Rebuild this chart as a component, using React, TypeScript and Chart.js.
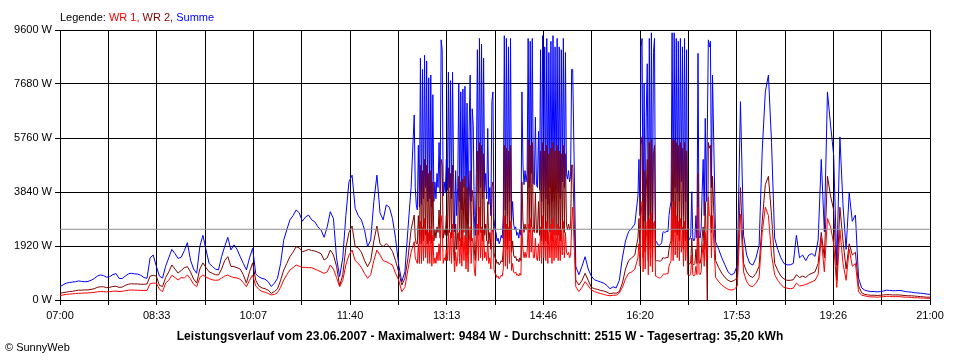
import React, { useEffect, useRef } from 'react';
import { Chart, registerables } from 'chart.js';

Chart.register(...registerables);

// Base sampling: one value every 3 minutes from 07:00 to 21:00
const STEP_MIN = 3;
const TOTAL_MIN = 840;
const GRID_DIVISIONS = 18;
const TIME_LABELS = ['07:00', '08:33', '10:07', '11:40', '13:13', '14:46', '16:20', '17:53', '19:26', '21:00'];
const Y_TICKS = [0, 1920, 3840, 5760, 7680, 9600];
const AVERAGE_W = 2515;

const LEGEND_PREFIX = 'Legende: ';
const SERIES_NAMES = ['WR 1', 'WR 2', 'Summe'];
const TITLE = 'Leistungsverlauf vom 23.06.2007 - Maximalwert: 9484 W - Durchschnitt: 2515 W - Tagesertrag: 35,20 kWh';
const COPYRIGHT = '\u00A9 SunnyWeb';

const WR1 = [
  150, 180, 200, 210, 220, 230, 240, 240, 250, 250,
  260, 270, 290, 300, 300, 290, 300, 310, 320, 300,
  310, 330, 350, 356, 350, 350, 340, 340, 340, 580,
  600, 600, 380, 300, 600, 700, 880, 800, 711, 800,
  780, 889, 750, 560, 474, 800, 889, 820, 760, 720,
  700, 711, 780, 850, 889, 830, 800, 780, 740, 620,
  474, 700, 889, 500, 380, 300, 280, 230, 180, 200,
  260, 450, 711, 900, 1067, 1150, 1245, 1200, 1160, 1160,
  1150, 1150, 1100, 1050, 1000, 948, 1000, 1245, 1100, 800,
  474, 700, 1245, 1600, 1778, 1400, 1300, 1150, 950, 770,
  900, 1400, 1778, 1600, 1400, 1363, 1300, 1245, 950, 700,
  300, 450, 1100, 1700, 2075, 1500, 1400, 3600, 1500, 3800,
  3300, 1500, 1200, 3600, 1600, 3600, 1600, 2900, 1000, 3600,
  2000, 3500, 1000, 3700, 1300, 3600, 3600, 1500, 3000, 3200,
  1200, 1000, 1100, 3500, 1200, 3600, 1400, 1100, 1000, 3600,
  2000, 3600, 3400, 2100, 3000, 3500, 1700, 3900, 1800, 3500,
  3500, 1800, 3900, 1700, 1800, 3300, 474, 300, 450, 652,
  500, 360, 300, 260, 230, 200, 170, 150, 170, 170,
  250, 450, 750, 950, 1000, 1100, 1500, 3500, 1500, 3400,
  3500, 3200, 850, 800, 780, 850, 950, 1500, 3600, 1600,
  3400, 3300, 900, 850, 1800, 3300, 900, 2400, 3000, 3650,
  3000, 800, 650, 530, 450, 380, 350, 380, 500, 3050,
  1000, 650, 500, 480, 600, 800, 2400, 3300, 3000, 1600,
  900, 700, 550, 450, 420, 400, 420, 600, 500, 520,
  550, 600, 650, 700, 900, 2200, 1000, 2900, 2600, 2000,
  450, 2500, 1300, 700, 1800, 1200, 1300, 300, 170, 150,
  120, 110, 110, 100, 110, 120, 130, 130, 120, 120,
  120, 110, 100, 100, 90, 80, 80, 70, 70, 60,
  60,
];

const WR2 = [
  240, 260, 280, 300, 310, 330, 350, 350, 360, 360,
  380, 400, 450, 470, 470, 440, 450, 480, 490, 450,
  460, 520, 560, 580, 570, 570, 560, 560, 570, 850,
  880, 850, 520, 480, 800, 1000, 1245, 1100, 960, 1050,
  1150, 1185, 1000, 750, 600, 1100, 1320, 1150, 1000, 950,
  900, 889, 1100, 1400, 1540, 1200, 1185, 1150, 1100, 900,
  600, 1000, 1320, 700, 500, 430, 400, 350, 237, 300,
  400, 700, 1067, 1300, 1541, 1700, 1896, 1850, 1720, 1750,
  1800, 1760, 1740, 1700, 1650, 1422, 1500, 1778, 1600, 1200,
  500, 900, 1850, 2400, 2630, 1900, 1850, 1700, 1400, 1185,
  1400, 2100, 2630, 2000, 1900, 2003, 1900, 1730, 1400, 1000,
  533, 770, 1500, 2500, 3022, 2000, 2100, 4800, 2200, 4600,
  4000, 2000, 3000, 4800, 2200, 4500, 2000, 3600, 1400, 4100,
  2300, 4000, 1200, 4300, 1600, 5600, 5000, 2300, 3000, 3800,
  1800, 1500, 1500, 5500, 2000, 5000, 1700, 1600, 1500, 3800,
  2500, 5700, 5000, 2000, 3500, 5400, 1800, 5500, 2200, 5000,
  5000, 2000, 5400, 2800, 2400, 4800, 711, 533, 700, 948,
  700, 450, 400, 380, 340, 320, 280, 220, 250, 240,
  300, 600, 1100, 1400, 1500, 1600, 2200, 5800, 2000, 5000,
  5000, 4800, 1400, 1400, 1380, 1400, 1500, 1800, 4800, 2000,
  5000, 4800, 1300, 1200, 2000, 4500, 1200, 2600, 3500, 5600,
  4400, 1400, 1150, 950, 800, 700, 650, 700, 800, 4000,
  1300, 1000, 850, 800, 950, 1200, 2800, 4100, 4400, 3000,
  1300, 1050, 850, 750, 700, 700, 720, 900, 800, 850,
  800, 900, 950, 1000, 1300, 2400, 1500, 4400, 3700, 3200,
  700, 3300, 2100, 1100, 2000, 1600, 1700, 500, 260, 200,
  180, 170, 170, 160, 170, 180, 190, 190, 180, 180,
  180, 170, 160, 150, 150, 140, 130, 120, 110, 100,
  100,
];

const SUMME = [
  470, 540, 600, 620, 640, 650, 680, 660, 650, 660,
  700, 760, 850, 890, 870, 810, 830, 900, 940, 770,
  760, 850, 930, 950, 930, 920, 880, 800, 770, 1500,
  1600, 1200, 850, 780, 1200, 1500, 1800, 1650, 1480, 1520,
  1750, 2040, 1420, 1100, 950, 1900, 2300, 1780, 1300, 1200,
  1100, 1070, 1540, 1900, 2230, 1780, 1960, 1800, 1540, 1300,
  1070, 1500, 1840, 930, 820, 770, 740, 650, 480, 600,
  770, 1300, 2130, 2500, 2850, 3000, 3200, 3100, 2800, 2950,
  3020, 2850, 2780, 2600, 2490, 2230, 2600, 3140, 2900, 1500,
  830, 1500, 3000, 4200, 4440, 3260, 3000, 2850, 2500, 1900,
  2130, 3500, 4440, 3100, 2850, 3380, 3300, 2900, 2190, 1245,
  650, 1000, 2550, 4000, 6580, 3380, 3000, 8600, 3600, 8400,
  7300, 3500, 4200, 9250, 3800, 8100, 3600, 6500, 2430, 7700,
  4500, 7700, 2300, 8000, 3000, 9300, 8800, 3850, 6100, 7050,
  2500, 2100, 2200, 9400, 3000, 9300, 2800, 2500, 2300, 7400,
  4500, 9300, 9200, 4100, 6500, 8900, 3500, 9400, 4000, 9000,
  9000, 3800, 9300, 4500, 4200, 8200, 1200, 900, 1200, 1540,
  1100, 850, 720, 680, 640, 600, 520, 400, 470, 430,
  700, 1500, 2100, 2430, 2550, 2700, 3700, 9300, 4000, 8400,
  9500, 9300, 2100, 2000, 1970, 2200, 2430, 3500, 9500, 4500,
  9300, 8900, 2200, 2200, 3850, 8770, 2200, 5000, 6460, 9250,
  8000, 2070, 1800, 1500, 1250, 1000, 890, 950, 1244, 7050,
  2300, 1600, 1300, 1244, 1500, 1950, 5300, 7400, 8000, 5600,
  2200, 1800, 1500, 1300, 1250, 1250, 1300, 2300, 1500, 1600,
  1400, 1600, 1650, 1550, 2134, 5000, 2430, 7400, 6220, 5150,
  1245, 5800, 3378, 1800, 3800, 2800, 3022, 782, 430, 350,
  320, 300, 300, 290, 300, 320, 350, 340, 330, 330,
  340, 330, 300, 290, 280, 260, 250, 240, 230, 210,
  200,
];

// Detail windows read at one-minute resolution where the curve flickers
const DETAIL_STEP_MIN = 1;
const DETAIL_A_START = 342; // 12:42
const DETAIL_B_START = 558; // 16:18

const SUMME_A = [
  6580, 4000, 3380, 3200, 5500, 3300, 8600, 3400, 8200, 3600,
  8700, 4000, 8500, 3500, 7900, 3600, 8000, 3300, 7300, 3500,
  4200, 3600, 4500, 4000, 5600, 3800, 9250, 8900, 3700, 4200,
  3800, 5000, 3900, 8100, 4000, 7800, 3600, 8100, 4500, 2430,
  4600, 3000, 4000, 7700, 3500, 7400, 3200, 7500, 4000, 7600,
  3000, 7000, 2700, 6000, 8000, 3500, 6800, 6200, 3000, 2300,
  4500, 8900, 3800, 9300, 4000, 9100, 3600, 8600, 3850, 4500,
  3600, 6100, 3400, 4000, 3000, 7050, 7400, 2900, 2500, 2400,
  2100, 2200, 2000, 2100, 2300, 2200, 3000, 9400, 3200, 9300,
  3000, 9000, 3500, 9300, 2800, 3500, 2700, 2500, 2600, 2300,
  2400, 2200, 2500, 2300, 7400, 4800, 4100, 4600, 4200, 4500,
  9300, 4000, 9200, 4500, 9300, 4200, 4100, 6500, 4100, 4000,
  6000, 3900, 8900, 3500, 9400, 4000, 9000, 3600, 9300, 3400,
  8800, 4000, 9200, 3500, 9400, 3800, 9000, 3900, 9300, 3800,
  9000, 3600, 8900, 4200, 9300, 4000, 8800, 4500, 4300, 4600,
  4200, 4400, 8200,
];

const WR2_A = [
  3022, 2200, 2000, 2000, 3000, 2000, 4800, 2000, 4600, 2100,
  5000, 2300, 4800, 2000, 4500, 2100, 4600, 2000, 4200, 2100,
  2500, 2200, 2600, 2400, 3200, 2200, 5000, 4800, 2200, 2500,
  2300, 3000, 2300, 4700, 2400, 4500, 2200, 4800, 2600, 1400,
  2700, 1800, 2400, 4400, 2100, 4200, 1900, 4300, 2400, 4400,
  1800, 4000, 1600, 3500, 4600, 2100, 3900, 3600, 1800, 1400,
  2600, 5300, 2300, 5600, 2400, 5500, 2100, 5200, 2300, 2700,
  2100, 3500, 2000, 2400, 1800, 4000, 4200, 1700, 1500, 1450,
  1300, 1350, 1250, 1300, 1400, 1350, 1800, 5500, 1900, 5400,
  1800, 5300, 2100, 5500, 1700, 2100, 1600, 1500, 1550, 1400,
  1450, 1350, 1500, 1400, 4200, 2800, 2400, 2700, 2500, 2600,
  5700, 2400, 5500, 2600, 5600, 2500, 2400, 3800, 2400, 2400,
  3500, 2300, 5300, 2100, 5600, 2400, 5300, 2100, 5500, 2000,
  5200, 2400, 5400, 2100, 5600, 2300, 5300, 2300, 5500, 2300,
  5300, 2100, 5200, 2500, 5500, 2400, 5200, 2700, 2500, 2700,
  2500, 2600, 4800,
];

const WR1_A = [
  2075, 1500, 1400, 1300, 2000, 1300, 2800, 1300, 2600, 1400,
  2900, 1500, 2500, 1300, 2400, 1300, 2600, 1200, 2300, 1300,
  1500, 1300, 1700, 1400, 2000, 1400, 3000, 2600, 1300, 1500,
  1400, 1800, 1400, 2500, 1400, 2400, 1300, 2700, 1700, 1000,
  1700, 1200, 1500, 2400, 1300, 2200, 1200, 2500, 1400, 2300,
  1100, 2200, 1000, 2000, 2600, 1300, 2200, 2000, 1100, 850,
  1700, 2700, 1400, 3300, 1500, 2600, 1400, 2500, 1500, 1700,
  1400, 2100, 1300, 1500, 1100, 2400, 2500, 1100, 950, 900,
  800, 850, 750, 800, 880, 850, 1100, 3000, 1200, 2700,
  1100, 2600, 1300, 2800, 1050, 1300, 1000, 950, 1000, 880,
  900, 850, 950, 880, 2500, 1800, 1500, 1700, 1500, 1700,
  2700, 1500, 2900, 1700, 2600, 1500, 1500, 2200, 1500, 1400,
  2000, 1400, 2600, 1300, 3000, 1500, 2500, 1400, 2800, 1300,
  2400, 1500, 2700, 1300, 2900, 1400, 2500, 1500, 2700, 1400,
  2600, 1400, 2500, 1600, 2800, 1500, 2400, 1700, 1600, 1700,
  1500, 1600, 2600,
];

const SUMME_B = [
  3700, 5000, 3000, 9000, 9300, 2500, 7700, 2800, 6500, 8400,
  2300, 9300, 3000, 9500, 2500, 8800, 9300, 2100, 2080, 1970,
  1960, 1950, 1980, 2050, 2400, 2430, 2400, 2420, 2450, 2430,
  3000, 3300, 3500, 9500, 3500, 9500, 4000, 9300, 3800, 9200,
  3500, 9300, 4200, 9000, 3000, 9300, 3500, 8900, 2200, 2200,
  2150, 2300, 3850, 2200, 2100, 2200, 3000, 2200, 8770, 2300,
  2200, 2500, 3850, 5000, 3000, 6460, 3500, 6000, 9250, 9000,
  9200, 4000,
];

const WR2_B = [
  2200, 2900, 1800, 5500, 5800, 1500, 4600, 1700, 3900, 5000,
  1400, 5600, 1800, 5700, 1500, 5200, 5500, 1400, 1400, 1400,
  1390, 1380, 1390, 1420, 1500, 1500, 1480, 1500, 1520, 1500,
  1800, 2000, 2100, 5700, 2100, 5700, 2400, 5600, 2300, 5500,
  2100, 5600, 2500, 5400, 1800, 5600, 2100, 5300, 1300, 1300,
  1280, 1350, 2200, 1300, 1250, 1300, 1800, 1300, 4500, 1350,
  1300, 1500, 2200, 2600, 1800, 3500, 2100, 0, 5600, 5400,
  5500, 2400,
];

const WR1_B = [
  1500, 2000, 1200, 3000, 3500, 1000, 2600, 1100, 2200, 2800,
  900, 2900, 1200, 3100, 1000, 2700, 2800, 850, 850, 800,
  790, 780, 800, 830, 900, 930, 920, 920, 940, 930,
  1200, 1300, 1400, 3300, 1400, 3500, 1600, 3000, 1500, 2800,
  1400, 2900, 1700, 2600, 1200, 2800, 1400, 2500, 900, 900,
  870, 950, 1600, 900, 850, 900, 1200, 900, 3300, 950,
  900, 1000, 1600, 2000, 1200, 2400, 1400, 2000, 3650, 3000,
  3000, 1500,
];

const COLORS = { wr1: '#ff0000', wr2: '#800000', summe: '#0000ff', avg: '#8c8c8c', grid: '#000000' };
const FONT_FAMILY = '"Liberation Sans", Arial, sans-serif';

type Pt = { x: number; y: number };

function buildSeries(main: number[], detailA: number[], detailB: number[]): Pt[] {
  const inWindow = (t: number, start: number, len: number) => t >= start && t < start + len * DETAIL_STEP_MIN;
  const pts: Pt[] = [];
  main.forEach((y, i) => {
    const t = i * STEP_MIN;
    if (!inWindow(t, DETAIL_A_START, detailA.length) && !inWindow(t, DETAIL_B_START, detailB.length)) pts.push({ x: t, y });
  });
  detailA.forEach((y, k) => pts.push({ x: DETAIL_A_START + k * DETAIL_STEP_MIN, y }));
  detailB.forEach((y, k) => pts.push({ x: DETAIL_B_START + k * DETAIL_STEP_MIN, y }));
  pts.sort((a, b) => a.x - b.x);
  return pts;
}

export default function App() {
  const canvasRef = useRef<HTMLCanvasElement | null>(null);

  useEffect(() => {
    const canvas = canvasRef.current;
    if (!canvas) return;
    const lineBase = { borderWidth: 1, pointRadius: 0, fill: false, tension: 0 };

    const chart = new Chart(canvas, {
      type: 'line',
      data: {
        datasets: [
          { ...lineBase, label: 'Durchschnitt', data: [{ x: 0, y: AVERAGE_W }, { x: TOTAL_MIN, y: AVERAGE_W }], borderColor: COLORS.avg },
          { ...lineBase, label: SERIES_NAMES[0], data: buildSeries(WR1, WR1_A, WR1_B), borderColor: COLORS.wr1 },
          { ...lineBase, label: SERIES_NAMES[1], data: buildSeries(WR2, WR2_A, WR2_B), borderColor: COLORS.wr2 },
          { ...lineBase, label: SERIES_NAMES[2], data: buildSeries(SUMME, SUMME_A, SUMME_B), borderColor: COLORS.summe },
        ],
      },
      options: {
        animation: false,
        responsive: false,
        events: [],
        layout: { padding: { left: 0, top: 30, right: 30, bottom: 0 } },
        plugins: { legend: { display: false }, tooltip: { enabled: false }, title: { display: false } },
        scales: {
          x: {
            type: 'linear',
            min: 0,
            max: TOTAL_MIN,
            afterBuildTicks: (scale: any) => {
              scale.ticks = Array.from({ length: GRID_DIVISIONS + 1 }, (_, i) => ({ value: (i * TOTAL_MIN) / GRID_DIVISIONS }));
            },
            afterFit: (scale: any) => { scale.height = 60; },
            ticks: {
              autoSkip: false,
              maxRotation: 0,
              minRotation: 0,
              padding: 4,
              color: '#000',
              font: { family: FONT_FAMILY, size: 11 },
              callback: (_v: any, i: number) => (i % 2 === 0 ? TIME_LABELS[i / 2] : ''),
            },
            grid: { color: COLORS.grid, lineWidth: 1, tickLength: 5, drawTicks: true },
            border: { color: COLORS.grid, width: 1 },
          },
          y: {
            type: 'linear',
            min: 0,
            max: Y_TICKS[Y_TICKS.length - 1],
            afterBuildTicks: (scale: any) => {
              scale.ticks = Y_TICKS.map((v) => ({ value: v }));
            },
            afterFit: (scale: any) => { scale.width = 60; },
            ticks: {
              padding: 3,
              color: '#000',
              font: { family: FONT_FAMILY, size: 11 },
              callback: (v: any) => `${v} W`,
            },
            grid: { color: COLORS.grid, lineWidth: 1, tickLength: 5, drawTicks: true },
            border: { color: COLORS.grid, width: 1 },
          },
        },
      },
    } as any);

    return () => chart.destroy();
  }, []);

  const textBase: React.CSSProperties = {
    position: 'absolute',
    fontFamily: FONT_FAMILY,
    fontSize: 11,
    lineHeight: '13px',
    whiteSpace: 'nowrap',
    color: '#000',
  };

  return (
    <div style={{ position: 'absolute', left: 0, top: 0, width: 960, height: 360, background: '#fff', overflow: 'hidden' }}>
      <canvas ref={canvasRef} width={960} height={360} style={{ position: 'absolute', left: 0, top: 0, width: 960, height: 360 }} />
      <div style={{ ...textBase, left: 60, top: 11 }}>
        <span>{LEGEND_PREFIX}</span>
        <span style={{ color: COLORS.wr1 }}>{SERIES_NAMES[0]}, </span>
        <span style={{ color: COLORS.wr2 }}>{SERIES_NAMES[1]}, </span>
        <span style={{ color: COLORS.summe }}>{SERIES_NAMES[2]}</span>
      </div>
      <div style={{ ...textBase, left: 0, width: 960, top: 330, textAlign: 'center', fontWeight: 'bold', fontSize: 12, letterSpacing: '0.1px' }}>{TITLE}</div>
      <div style={{ ...textBase, left: 5, top: 341 }}>{COPYRIGHT}</div>
    </div>
  );
}
